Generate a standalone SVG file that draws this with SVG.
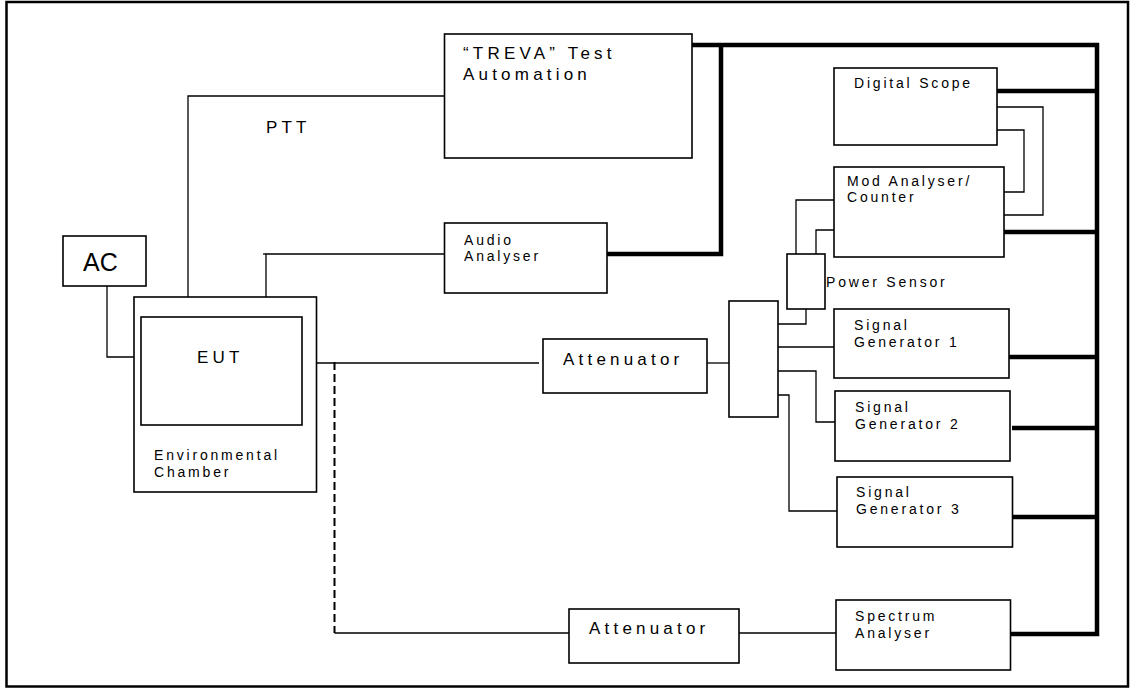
<svg xmlns="http://www.w3.org/2000/svg" width="1133" height="688" viewBox="0 0 1133 688">
<style>
.box{fill:#fff;stroke:#000;stroke-width:1.6}
.w{fill:none;stroke:#000;stroke-width:1.3}
.t{fill:none;stroke:#000;stroke-width:4.5}
.d{fill:none;stroke:#000;stroke-width:2;stroke-dasharray:8,4}
text{font-family:"Liberation Sans",Arial,sans-serif;fill:#000}
.s{font-size:14px;letter-spacing:2.8px}
.m{font-size:17px;letter-spacing:4.2px}
</style>
<rect x="6.5" y="2" width="1121.5" height="684.5" fill="#fff" stroke="#000" stroke-width="2.5"/>
<g id="connectors">
<path class="w" d="M188,317 V96 H444"/>
<path class="w" d="M266,317 V254 H444"/>
<path class="w" d="M263,254 H266"/>
<path class="w" d="M107,286 V357 H141"/>
<path class="w" d="M302,363 H539"/>
<path class="d" d="M334.5,362 V633"/>
<path class="w" d="M334.5,633 H569"/>
<path class="w" d="M739,633 H836"/>
<path class="w" d="M707,363 H729"/>
<path class="w" d="M777,324 H806 V309"/>
<path class="w" d="M777,347 H834"/>
<path class="w" d="M777,371 H816 V422 H835"/>
<path class="w" d="M777,395 H789 V511 H837"/>
<path class="w" d="M834,200 H796 V254"/>
<path class="w" d="M834,230 H816 V254"/>
<path class="w" d="M997,107 H1043 V215 H1004"/>
<path class="w" d="M997,130 H1024 V192 H1004"/>
<path class="t" d="M607,254 H721 V45"/>
<path class="t" d="M692,45 H1097 V634 H1010"/>
<path class="t" d="M997,91 H1097"/>
<path class="t" d="M1004,232 H1097"/>
<path class="t" d="M1009,357 H1097"/>
<path class="t" d="M1012,428 H1097"/>
<path class="t" d="M1012,517 H1097"/>
</g>
<g id="ac"><rect class="box" x="63" y="236" width="83" height="50"/><text x="83" y="271" font-size="25">AC</text></g>
<g id="chamber"><rect class="box" x="134" y="297" width="182.5" height="195"/><text class="s" x="154" y="460">Environmental</text><text class="s" x="154" y="477">Chamber</text></g>
<g id="eut"><rect class="box" x="141" y="317" width="161" height="108"/><text class="m" x="197" y="363" letter-spacing="5">EUT</text></g>
<text id="ptt" class="m" x="266" y="133">PTT</text>
<g id="treva"><rect class="box" x="444.5" y="34" width="247.5" height="124"/><text class="m" x="463" y="59" letter-spacing="4.8">“TREVA” Test</text><text class="m" x="463" y="80">Automation</text></g>
<g id="audio"><rect class="box" x="444.5" y="223" width="162.5" height="70"/><text class="s" x="464" y="245">Audio</text><text class="s" x="464" y="261">Analyser</text></g>
<g id="att1"><rect class="box" x="543" y="339" width="164" height="54"/><text class="m" x="563" y="365" font-size="18" letter-spacing="3.6">Attenuator</text></g>
<g id="att2"><rect class="box" x="569" y="609" width="170" height="54"/><text class="m" x="589" y="634" font-size="18" letter-spacing="3.6">Attenuator</text></g>
<g id="splitter"><rect class="box" x="729" y="301" width="49" height="116"/></g>
<g id="power"><rect class="box" x="787" y="254" width="38" height="55"/><text class="s" x="826" y="287" letter-spacing="3.1">Power Sensor</text></g>
<g id="scope"><rect class="box" x="834" y="68" width="163" height="77"/><text class="s" x="854" y="88">Digital Scope</text></g>
<g id="mod"><rect class="box" x="834" y="167" width="170" height="90"/><text class="s" x="847" y="186" letter-spacing="2.3">Mod Analyser/</text><text class="s" x="847" y="202" letter-spacing="2.3">Counter</text></g>
<g id="sg1"><rect class="box" x="834" y="309" width="175" height="69"/><text class="s" x="854" y="330" letter-spacing="2.3">Signal</text><text class="s" x="854" y="347" letter-spacing="2.3">Generator 1</text></g>
<g id="sg2"><rect class="box" x="835" y="391" width="175" height="70"/><text class="s" x="855" y="412" letter-spacing="2.3">Signal</text><text class="s" x="855" y="429" letter-spacing="2.3">Generator 2</text></g>
<g id="sg3"><rect class="box" x="837" y="477" width="175.5" height="70"/><text class="s" x="856" y="497" letter-spacing="2.3">Signal</text><text class="s" x="856" y="514" letter-spacing="2.3">Generator 3</text></g>
<g id="spectrum"><rect class="box" x="836" y="600" width="174.5" height="70"/><text class="s" x="855" y="621">Spectrum</text><text class="s" x="855" y="638">Analyser</text></g>
</svg>
